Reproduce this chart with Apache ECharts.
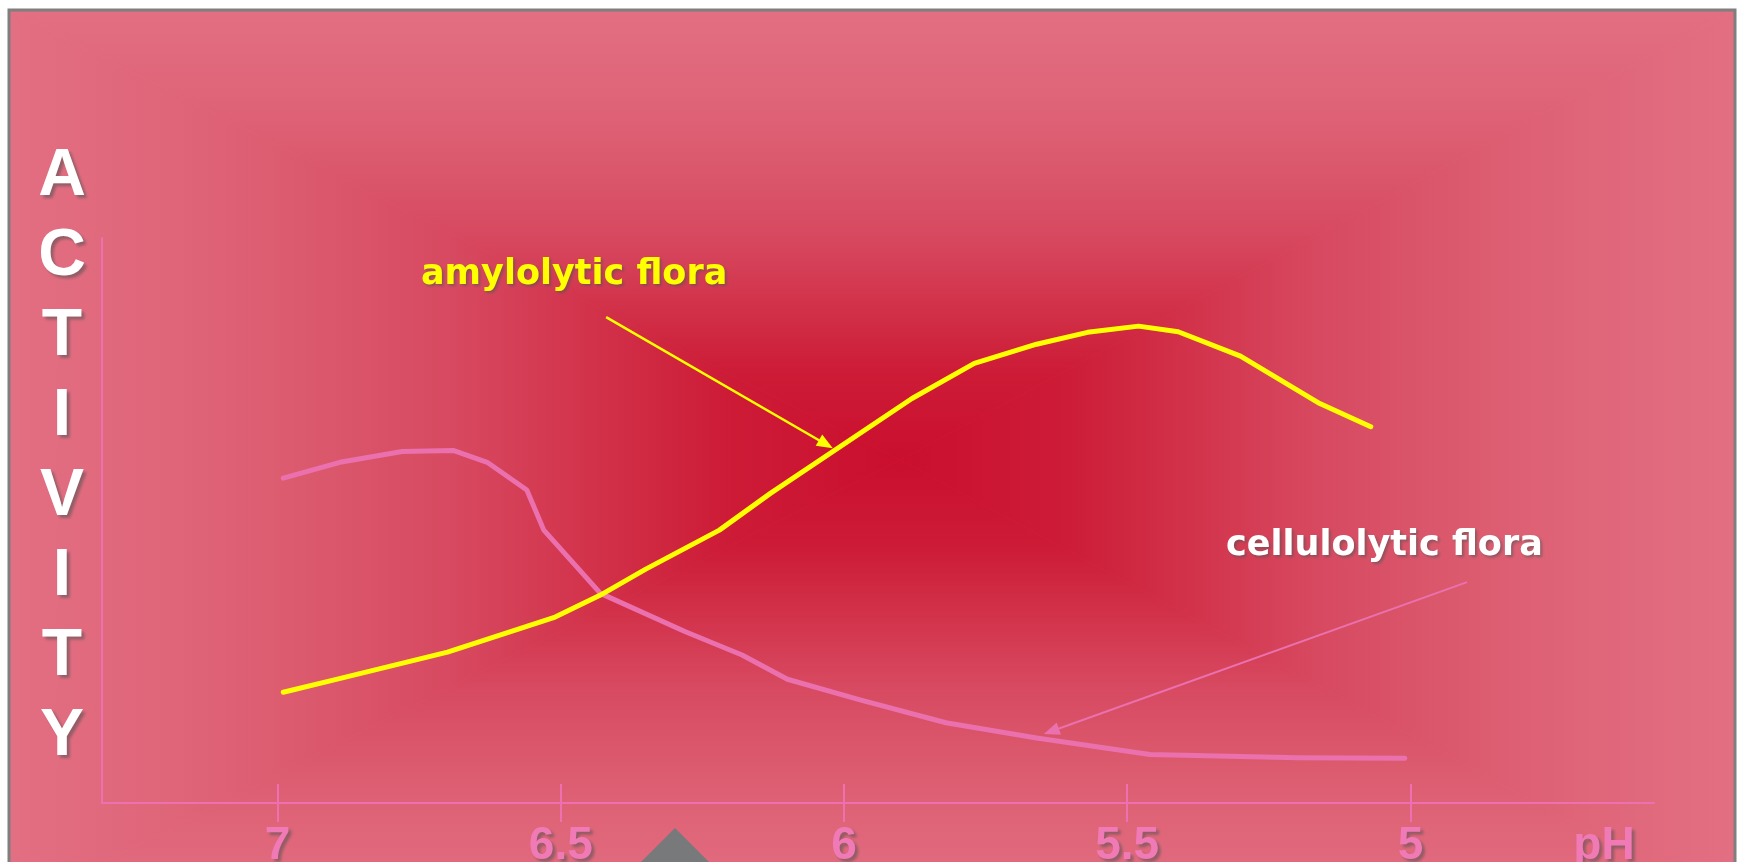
<!DOCTYPE html>
<html>
<head>
<meta charset="utf-8">
<script src="https://cdn.jsdelivr.net/npm/echarts@6/dist/echarts.min.js"></script>
<style>
  html, body { margin: 0; padding: 0; background: #ffffff; }
  #chart { width: 1741px; height: 862px; }
</style>
</head>
<body>
<div id="chart"></div>
<script>
// pH ticks (axis runs from neutral to acidic, left to right)
const phTicks = [7, 6.5, 6, 5.5, 5];
const tickLabels = ['7', '6.5', '6', '5.5', '5'];
const xAxisTitle = 'pH';
const yAxisTitle = 'ACTIVITY';

// amylolytic flora: activity rises as the rumen gets more acidic
const amyPH       = [6.99, 6.90, 6.79, 6.70, 6.59, 6.51, 6.43, 6.35, 6.22, 6.13, 5.88, 5.77, 5.66, 5.57, 5.48, 5.41, 5.30, 5.16, 5.07];
const amyActivity = [19.6, 21.8, 24.5, 26.7, 30.3, 32.9, 36.8, 41.4, 48.3, 54.8, 71.6, 77.8, 81.2, 83.3, 84.4, 83.4, 79.1, 70.7, 66.6];

// cellulolytic flora: activity collapses below pH ~6.5
const cellPH       = [6.99, 6.89, 6.78, 6.69, 6.63, 6.56, 6.53, 6.43, 6.28, 6.18, 6.10, 5.97, 5.82, 5.66, 5.46, 5.20, 5.01];
const cellActivity = [57.5, 60.3, 62.2, 62.4, 60.3, 55.4, 48.3, 37.1, 30.3, 26.2, 21.9, 18.2, 14.2, 11.5, 8.6, 8.0, 7.9];

// annotation arrows [from, to] in (pH, activity)
const amyArrow  = [[6.42, 86.0], [6.032, 63.5]];
const cellArrow = [[4.90, 39.1], [5.634, 12.7]];

const amyName = 'amylolytic flora';
const cellName = 'cellulolytic flora';

const YELLOW = '#ffff00';
const PINK = '#ea70ae';
const AXIS_PINK = '#ee70b0';

// rectangular "from centre" background gradient
const box = { left: 9, top: 10, right: 1735, bottom: 910 };
const centre = [900, 460];
const stops = [
  { offset: 0.00, color: '#ca0f2e' },
  { offset: 0.20, color: '#cd1c37' },
  { offset: 0.35, color: '#d2334b' },
  { offset: 0.50, color: '#d74960' },
  { offset: 0.65, color: '#db586c' },
  { offset: 0.80, color: '#df6478' },
  { offset: 1.00, color: '#e36f82' }
];
function grad(x2, y2) {
  return { type: 'linear', x: centre[0], y: centre[1], x2: x2, y2: y2, global: true, colorStops: stops };
}
const TL = [box.left, box.top], TR = [box.right, box.top], BR = [box.right, box.bottom], BL = [box.left, box.bottom];
const bgPieces = [
  { pts: [centre, TL, TR], fill: grad(centre[0], box.top) },
  { pts: [centre, TR, BR], fill: grad(box.right, centre[1]) },
  { pts: [centre, BR, BL], fill: grad(centre[0], box.bottom) },
  { pts: [centre, BL, TL], fill: grad(box.left, centre[1]) }
].map(p => ({
  type: 'polygon', z: -20, silent: true,
  shape: { points: p.pts },
  style: { fill: p.fill, stroke: p.fill, lineWidth: 1 }
}));

const shadow = { textShadowColor: 'rgba(80,80,80,0.55)', textShadowBlur: 3, textShadowOffsetX: 3, textShadowOffsetY: 3 };

const letters = yAxisTitle.split('').map((ch, i) => ({
  type: 'text', z: 50, silent: true,
  x: 62, y: 177 + i * 80,
  style: Object.assign({
    text: ch, fill: '#ffffff',
    font: 'bold 66px "Liberation Sans", Arial, sans-serif',
    align: 'center', verticalAlign: 'middle',
    textAlign: 'center', textVerticalAlign: 'middle'
  }, shadow)
}));

const chart = echarts.init(document.getElementById('chart'), null, { renderer: 'canvas' });

const xCommon = {
  type: 'value', inverse: true, min: 4.57, max: 7.31,
  splitLine: { show: false }
};

chart.setOption({
  animation: false,
  backgroundColor: '#ffffff',
  grid: { left: 102, right: 87, top: 238, bottom: 59, containLabel: false, outerBoundsMode: 'none' },
  xAxis: [
    Object.assign({}, xCommon, {
      position: 'bottom',
      axisLine: { show: true, lineStyle: { color: AXIS_PINK, width: 2 } },
      axisTick: { show: true, inside: true, length: 19, customValues: phTicks, lineStyle: { color: AXIS_PINK, width: 2 } },
      axisLabel: { show: false }
    }),
    Object.assign({}, xCommon, {
      position: 'bottom',
      axisLine: { show: false },
      axisTick: { show: true, inside: false, length: 19, customValues: phTicks, lineStyle: { color: AXIS_PINK, width: 2 } },
      axisLabel: Object.assign({
        show: true, customValues: phTicks, margin: 20,
        color: '#f07ab6', fontSize: 46, fontWeight: 'bold',
        fontFamily: '"Liberation Sans", Arial, sans-serif',
        formatter: v => tickLabels[phTicks.indexOf(v)] ?? ''
      }, shadow)
    })
  ],
  yAxis: {
    type: 'value', min: 0, max: 100,
    axisLine: { show: true, lineStyle: { color: AXIS_PINK, width: 2 } },
    axisTick: { show: false },
    axisLabel: { show: false },
    splitLine: { show: false }
  },
  graphic: [
    ...bgPieces,
    {
      type: 'rect', z: -10, silent: true,
      shape: { x: box.left, y: box.top, width: box.right - box.left, height: box.bottom - box.top },
      style: { fill: 'none', stroke: '#7f7f7f', lineWidth: 3 }
    },
    {
      type: 'polygon', z: 40, silent: true,
      shape: { points: [[675, 828], [625, 878], [725, 878]] },
      style: { fill: '#77797b' }
    },
    ...letters,
    {
      type: 'text', z: 50, silent: true, x: 1604, y: 823,
      style: Object.assign({
        text: xAxisTitle, fill: '#f07ab6',
        font: 'bold 46px "Liberation Sans", Arial, sans-serif',
        align: 'center', verticalAlign: 'top', textAlign: 'center', textVerticalAlign: 'top'
      }, shadow)
    },
    {
      type: 'text', z: 50, silent: true, x: 421, y: 275,
      style: Object.assign({
        text: amyName, fill: YELLOW,
        font: 'bold 35px "DejaVu Sans", sans-serif',
        align: 'left', verticalAlign: 'middle', textAlign: 'left', textVerticalAlign: 'middle'
      }, shadow, { textShadowOffsetX: 2, textShadowOffsetY: 2 })
    },
    {
      type: 'text', z: 50, silent: true, x: 1226, y: 546,
      style: Object.assign({
        text: cellName, fill: '#ffffff',
        font: 'bold 35px "DejaVu Sans", sans-serif',
        align: 'left', verticalAlign: 'middle', textAlign: 'left', textVerticalAlign: 'middle'
      }, shadow, { textShadowOffsetX: 2, textShadowOffsetY: 2 })
    }
  ],
  series: [
    {
      name: cellName, type: 'line', xAxisIndex: 0, yAxisIndex: 0,
      data: cellPH.map((p, i) => [p, cellActivity[i]]),
      symbol: 'none', smooth: false, z: 3,
      lineStyle: { color: PINK, width: 5, cap: 'round', join: 'round' },
      markLine: {
        silent: true, animation: false,
        symbol: ['none', 'triangle'], symbolSize: [13, 16],
        label: { show: false },
        lineStyle: { color: PINK, width: 2, type: 'solid' },
        data: [[{ coord: cellArrow[0] }, { coord: cellArrow[1] }]]
      }
    },
    {
      name: amyName, type: 'line', xAxisIndex: 0, yAxisIndex: 0,
      data: amyPH.map((p, i) => [p, amyActivity[i]]),
      symbol: 'none', smooth: false, z: 4,
      lineStyle: { color: YELLOW, width: 5, cap: 'round', join: 'round' },
      markLine: {
        silent: true, animation: false,
        symbol: ['none', 'triangle'], symbolSize: [13, 16],
        label: { show: false },
        lineStyle: { color: YELLOW, width: 2.5, type: 'solid' },
        data: [[{ coord: amyArrow[0] }, { coord: amyArrow[1] }]]
      }
    }
  ]
});
</script>
</body>
</html>
